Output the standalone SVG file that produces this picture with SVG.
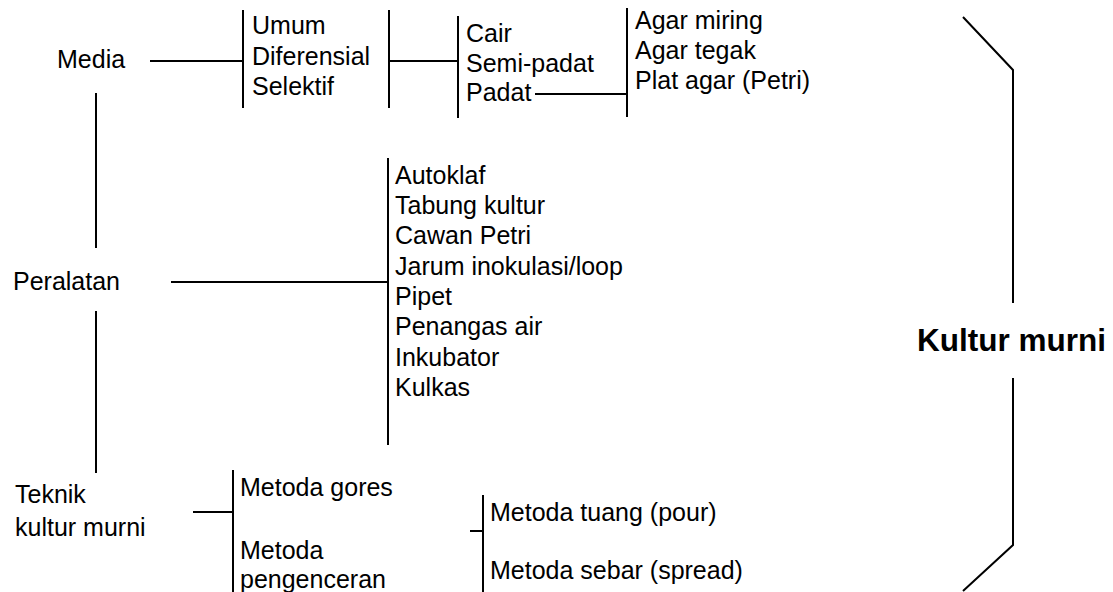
<svg xmlns="http://www.w3.org/2000/svg" width="1113" height="592" viewBox="0 0 1113 592">
<style>
text{font-family:"Liberation Sans",Arial,sans-serif;font-size:25px;fill:#000}
.b{font-weight:bold;font-size:31.5px}
line,polyline{stroke:#000;stroke-width:2;fill:none}
</style>
<rect width="1113" height="592" fill="#fff"/>
<g id="connectors">
<line x1="96" y1="93" x2="96" y2="248"/>
<line x1="96" y1="311" x2="96" y2="473"/>
<line x1="150" y1="61" x2="243" y2="61"/>
<line x1="243" y1="10" x2="243" y2="108"/>
<line x1="389" y1="10" x2="389" y2="108"/>
<line x1="389" y1="61" x2="458" y2="61"/>
<line x1="458" y1="16" x2="458" y2="118"/>
<line x1="535" y1="94" x2="627" y2="94"/>
<line x1="627" y1="8" x2="627" y2="117"/>
<line x1="171" y1="282" x2="388" y2="282"/>
<line x1="388" y1="158" x2="388" y2="445"/>
<line x1="193" y1="512" x2="233" y2="512"/>
<line x1="233" y1="470" x2="233" y2="592"/>
<line x1="470" y1="531" x2="483" y2="531"/>
<line x1="483" y1="495" x2="483" y2="592"/>
<polyline points="963,17 1013,70 1013,303"/>
<polyline points="1013,378 1013,545 963,591"/>
</g>
<g id="media"><text x="57" y="68">Media</text></g>
<g id="media-jenis"><text x="252" y="34">Umum</text><text x="252" y="65">Diferensial</text><text x="252" y="95">Selektif</text></g>
<g id="media-bentuk"><text x="466" y="42">Cair</text><text x="466" y="72">Semi-padat</text><text x="466" y="101">Padat</text></g>
<g id="media-padat"><text x="635" y="29">Agar miring</text><text x="635" y="59">Agar tegak</text><text x="635" y="89">Plat agar (Petri)</text></g>
<g id="peralatan"><text x="13" y="290">Peralatan</text></g>
<g id="peralatan-list">
<text x="395" y="184">Autoklaf</text><text x="395" y="214">Tabung kultur</text><text x="395" y="244">Cawan Petri</text><text x="395" y="275">Jarum inokulasi/loop</text><text x="395" y="305">Pipet</text><text x="395" y="335">Penangas air</text><text x="395" y="366">Inkubator</text><text x="395" y="396">Kulkas</text>
</g>
<g id="teknik"><text x="15" y="503">Teknik</text><text x="15" y="536">kultur murni</text></g>
<g id="metoda"><text x="240" y="496">Metoda gores</text><text x="240" y="559">Metoda</text><text x="240" y="588">pengenceran</text></g>
<g id="pengenceran"><text x="490" y="521">Metoda tuang (pour)</text><text x="490" y="579">Metoda sebar (spread)</text></g>
<g id="kultur-murni"><text class="b" x="917" y="351">Kultur murni</text></g>
</svg>
